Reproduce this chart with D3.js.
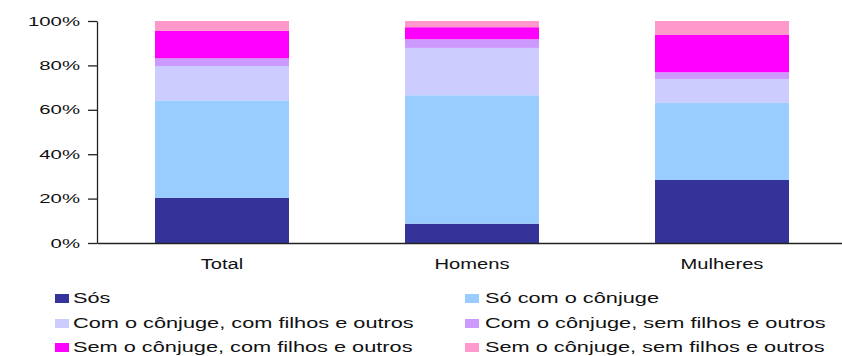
<!DOCTYPE html>
<html>
<head>
<meta charset="utf-8">
<script src="https://cdn.jsdelivr.net/npm/d3@7"></script>
<style>
  html, body { margin: 0; padding: 0; background: #fff; }
  svg { display: block; }
  text { font-family: "Liberation Sans", Arial, sans-serif; fill: #111; }
</style>
</head>
<body>
<svg id="chart" width="842" height="356"></svg>
<script>
// Living arrangements, share (%) of each group
const categories = ["Total", "Homens", "Mulheres"];
const seriesNames = [
  "Sós",
  "Só com o cônjuge",
  "Com o cônjuge, com filhos e outros",
  "Com o cônjuge, sem filhos e outros",
  "Sem o cônjuge, com filhos e outros",
  "Sem o cônjuge, sem filhos e outros"
];
const sos                 = [20.4,  8.7, 28.4];
const soComConjuge        = [43.9, 57.8, 34.7];
const conjugeComFilhos    = [15.5, 21.3, 10.8];
const conjugeSemFilhos    = [ 3.5,  3.9,  3.0];
const semConjugeComFilhos = [12.3,  5.4, 16.8];
const semConjugeSemFilhos = [ 4.5,  2.8,  6.3];
const yTicks = [0, 0.2, 0.4, 0.6, 0.8, 1];
const colors = ["#333399", "#99CCFF", "#CCCCFF", "#CC99FF", "#FF00FF", "#FF99CC"];

const seriesValues = [sos, soComConjuge, conjugeComFilhos, conjugeSemFilhos,
                      semConjugeComFilhos, semConjugeSemFilhos];
const rows = categories.map((c, i) => {
  const r = { category: c };
  seriesNames.forEach((s, j) => { r[s] = seriesValues[j][i]; });
  return r;
});

const svg = d3.select("#chart");
const x = d3.scaleBand().domain(categories).range([97, 847])
  .paddingInner(0.464).paddingOuter(0.232);
const y = d3.scaleLinear().domain([0, 1]).range([243, 21]);
const color = d3.scaleOrdinal().domain(seriesNames).range(colors);

const stacked = d3.stack().keys(seriesNames).offset(d3.stackOffsetExpand)(rows);

svg.append("g").selectAll("g")
  .data(stacked).join("g")
  .attr("fill", d => color(d.key))
  .selectAll("rect")
  .data(d => d).join("rect")
  .attr("x", d => x(d.data.category))
  .attr("width", x.bandwidth())
  .attr("y", d => y(d[1]))
  .attr("height", d => y(d[0]) - y(d[1]));

// Y axis
const yAxis = svg.append("g")
  .attr("transform", "translate(97,0)")
  .call(d3.axisLeft(y).tickValues(yTicks).tickFormat(d3.format(".0%"))
    .tickSize(9).tickSizeOuter(0));
yAxis.selectAll("text")
  .attr("x", 0)
  .attr("transform", "translate(-17,0) scale(1.63,1)")
  .style("font-size", "12.5px");
yAxis.selectAll("line, path").attr("stroke", "#222").attr("stroke-width", 1.3);

// X axis
const xAxis = svg.append("g")
  .attr("transform", "translate(0,243)")
  .call(d3.axisBottom(x).tickSize(0).tickSizeOuter(0));
xAxis.selectAll("text")
  .attr("y", 0).attr("dy", 0)
  .attr("transform", "translate(0,26) scale(1.3,1)")
  .style("font-size", "15.5px");
xAxis.select(".domain").attr("stroke", "#222").attr("stroke-width", 1.3);
svg.selectAll(".tick text").style("font-family", "'Liberation Sans', Arial, sans-serif").attr("fill", "#111");

// Legend, two columns
const colX = [55, 465];
const rowY = [303, 328, 352];
const legend = svg.append("g").selectAll("g")
  .data(seriesNames).join("g")
  .attr("transform", (d, i) => `translate(${colX[i % 2]},${rowY[Math.floor(i / 2)]})`);
legend.append("rect")
  .attr("x", 0).attr("y", -9).attr("width", 14).attr("height", 9)
  .attr("fill", d => color(d));
legend.append("text")
  .attr("transform", (d, i) => `translate(${i % 2 ? 20 : 18},0) scale(1.45,1)`)
  .style("font-size", "15px")
  .text(d => d);
</script>
</body>
</html>
